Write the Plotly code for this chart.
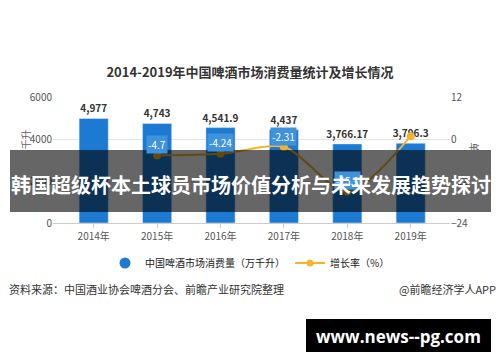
import plotly.graph_objects as go

# ---- data ----
years = ["2014年", "2015年", "2016年", "2017年", "2018年", "2019年"]
consumption = [4977, 4743, 4541.9, 4437, 3766.17, 3796.3]
consumption_labels = ["4,977", "4,743", "4,541.9", "4,437", "3,766.17", "3,796.3"]
growth_years = ["2015年", "2016年", "2017年", "2018年", "2019年"]
growth = [-4.7, -4.24, -2.31, -15.1, 0.8]
growth_labels = ["-4.7", "-4.24", "-2.31", "-15.1", ""]

W, H = 500, 362
L, R, T, B = 53, 450, 97, 223  # plot area in pixels
FONT = "Noto Sans CJK SC, Noto Sans, sans-serif"

def px(x):
    return (x - L) / (R - L)

def py(y):
    return (B - y) / (B - T)

BAR = "#1c7ad2"
LINE = "#f4b52d"

fig = go.Figure()
fig.add_trace(go.Bar(
    x=years, y=consumption, width=0.46, marker_color=BAR,
    text=consumption_labels, textposition="outside", cliponaxis=False, constraintext="none",
    textfont=dict(size=10, color="#333", family=FONT, weight="bold"),
    showlegend=False, yaxis="y"))
fig.add_trace(go.Scatter(
    x=growth_years, y=growth, mode="lines+markers", yaxis="y2",
    line=dict(color=LINE, width=2, shape="spline", smoothing=0.8),
    marker=dict(size=8, color=LINE), showlegend=False))

# legend-only traces
fig.add_trace(go.Scatter(x=[None], y=[None], mode="markers", name="中国啤酒市场消费量（万千升）",
                         marker=dict(symbol="circle", size=11, color=BAR)))
fig.add_trace(go.Scatter(x=[None], y=[None], mode="lines+markers", name="增长率（%）",
                         line=dict(color=LINE, width=2), marker=dict(size=7, color=LINE)))

annotations = []
for xv, yv, lab in zip(growth_years, growth, growth_labels):
    if lab:
        annotations.append(dict(x=xv, y=yv, xref="x", yref="y2", text=lab, showarrow=False,
                                yshift=11, bgcolor="#3f93dc", borderpad=1,
                                font=dict(size=10, color="white", family=FONT)))

annotations += [
    dict(x=px(15), y=py(160), xref="paper", yref="paper", text="单位：万千升", textangle=-90,
         showarrow=False, font=dict(size=10, color="#666", family=FONT)),
    dict(x=px(484), y=py(162), xref="paper", yref="paper", text="单位：%", textangle=90,
         showarrow=False, font=dict(size=10, color="#666", family=FONT)),
    dict(x=px(7), y=py(289), xref="paper", yref="paper", xanchor="left", yanchor="middle",
         text="资料来源：中国酒业协会啤酒分会、前瞻产业研究院整理", showarrow=False,
         font=dict(size=11, color="#333", family=FONT)),
    dict(x=px(498), y=py(289), xref="paper", yref="paper", xanchor="right", yanchor="middle",
         text="@前瞻经济学人APP", showarrow=False,
         font=dict(size=11, color="#333", family=FONT)),
    dict(x=px(250.5), y=py(184), xref="paper", yref="paper", xanchor="center", yanchor="middle",
         text="<b>韩国超级杯本土球员市场价值分析与未来发展趋势探讨</b>", showarrow=False,
         font=dict(size=20, color="white", family=FONT)),
    dict(x=px(398.5), y=py(336), xref="paper", yref="paper", xanchor="center", yanchor="middle",
         text="<b>www.news--pg.com</b>", showarrow=False,
         font=dict(size=17, color="white", family="Open Sans, DejaVu Sans, sans-serif")),
]

shapes = [
    dict(type="rect", xref="paper", yref="paper", x0=px(10), x1=px(491), y0=py(212), y1=py(150),
         fillcolor="rgba(0,0,0,0.6)", line_width=0, layer="above"),
    dict(type="rect", xref="paper", yref="paper", x0=px(306), x1=px(491), y0=py(352), y1=py(319),
         fillcolor="black", line_width=0, layer="above"),
]

fig.update_layout(
    width=W, height=H, margin=dict(l=L, r=W - R, t=T, b=H - B),
    paper_bgcolor="white", plot_bgcolor="white",
    font=dict(family=FONT),
    title=dict(text="<b>2014-2019年中国啤酒市场消费量统计及增长情况</b>", x=0.5, xanchor="center",
               y=1 - 72.5 / H, yanchor="middle", font=dict(size=13, color="#333", family=FONT)),
    xaxis=dict(range=[-0.642, 5.62], showline=True, linecolor="#ccc", ticks="outside",
               ticklen=4, tickcolor="#ccc", tickfont=dict(size=10, color="#555", family=FONT)),
    yaxis=dict(range=[0, 6000], dtick=2000, showgrid=True, gridcolor="#e3e3e3", zeroline=False,
               tickfont=dict(size=10, color="#555", family=FONT)),
    yaxis2=dict(range=[-24, 12], dtick=12, overlaying="y", side="right", showgrid=False,
                zeroline=False, tickfont=dict(size=10, color="#555", family=FONT)),
    legend=dict(orientation="h", x=px(250), xanchor="center", y=py(263), yanchor="middle",
                font=dict(size=10, color="#222", family=FONT), itemwidth=30),
    annotations=annotations, shapes=shapes,
)

fig.write_html("out.html", config={"displayModeBar": False},
               post_script="document.body.style.margin='0';")
